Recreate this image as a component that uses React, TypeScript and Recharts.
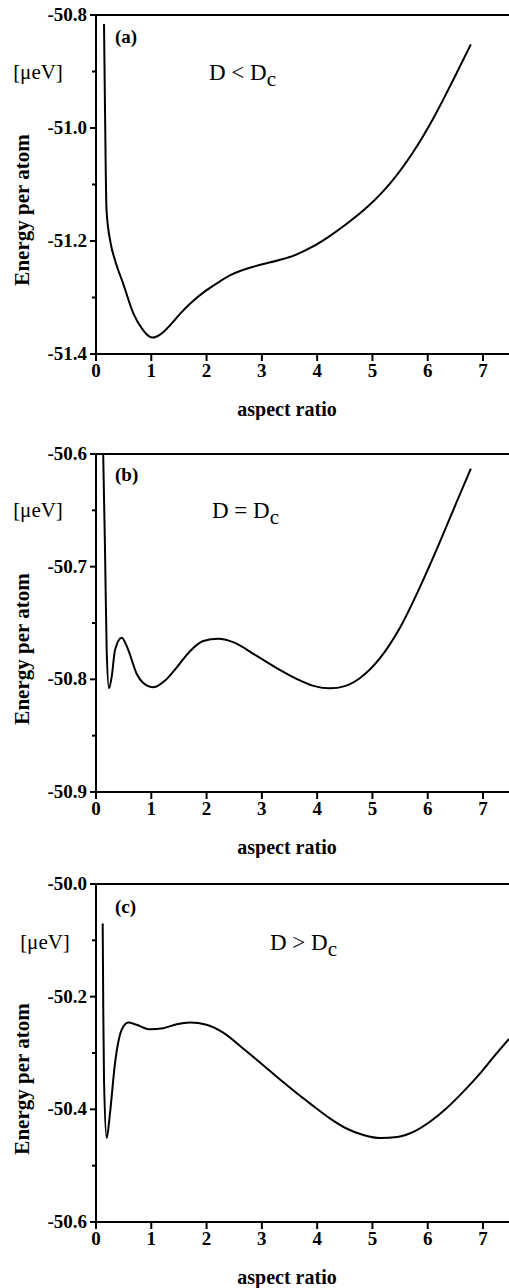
import { LineChart, Line, XAxis, YAxis, ReferenceLine } from 'recharts'

const SERIF = '"Liberation Serif", "Times New Roman", serif'

const aspectTicks = [0, 1, 2, 3, 4, 5, 6, 7]

// (a) D < Dc
const aspectA = [0.145, 0.163, 0.19, 0.265, 0.344, 0.49, 0.675, 0.855, 0.95, 1.02, 1.1, 1.22, 1.35, 1.52, 1.7, 2.0, 2.2, 2.42, 2.9, 3.3, 3.6, 3.9, 4.2, 4.53, 4.95, 5.32, 5.74, 6.1, 6.46, 6.78]
const energyA = [-50.816, -50.968, -51.145, -51.204, -51.234, -51.275, -51.328, -51.358, -51.368, -51.371, -51.369, -51.361, -51.348, -51.329, -51.311, -51.287, -51.274, -51.261, -51.244, -51.234, -51.225, -51.211, -51.193, -51.17, -51.136, -51.098, -51.042, -50.983, -50.915, -50.852]
const majorA = [-51.4, -51.2, -51.0, -50.8]
const minorA = [-51.3, -51.1, -50.9]

// (b) D = Dc
const aspectB = [0.13, 0.163, 0.193, 0.235, 0.283, 0.344, 0.464, 0.584, 0.735, 0.85, 1.04, 1.25, 1.45, 1.7, 1.94, 2.21, 2.48, 2.9, 3.27, 3.69, 3.95, 4.23, 4.5, 4.77, 5.14, 5.5, 5.86, 6.22, 6.52, 6.78]
const energyB = [-50.6, -50.685, -50.774, -50.808, -50.798, -50.774, -50.763, -50.774, -50.795, -50.803, -50.807, -50.801, -50.79, -50.775, -50.766, -50.764, -50.767, -50.779, -50.79, -50.801, -50.806, -50.808, -50.806, -50.799, -50.781, -50.754, -50.718, -50.678, -50.643, -50.613]
const majorB = [-50.9, -50.8, -50.7, -50.6]
const minorB = [-50.85, -50.75, -50.65]

// (c) D > Dc
const aspectC = [0.121, 0.132, 0.145, 0.193, 0.253, 0.344, 0.464, 0.584, 0.735, 0.976, 1.217, 1.46, 1.7, 2.0, 2.3, 2.66, 3.03, 3.39, 3.69, 3.93, 4.23, 4.53, 4.85, 5.14, 5.45, 5.74, 6.04, 6.34, 6.64, 6.94, 7.2, 7.47]
const energyC = [-50.07, -50.23, -50.348, -50.451, -50.407, -50.318, -50.259, -50.246, -50.25, -50.258, -50.256, -50.249, -50.246, -50.25, -50.264, -50.292, -50.322, -50.352, -50.376, -50.394, -50.416, -50.434, -50.446, -50.451, -50.449, -50.44, -50.422, -50.398, -50.369, -50.337, -50.306, -50.275]
const majorC = [-50.6, -50.4, -50.2, -50.0]
const minorC = [-50.5, -50.3, -50.1]

const zip = (xs: number[], ys: number[]) => xs.map((x, i) => ({ x, e: ys[i] }))

const YTick = ({ x, y, payload, majors }: any) => {
  const major = majors.some((m: number) => Math.abs(m - payload.value) < 1e-6)
  return (
    <g>
      <line x1={x - (major ? 6 : 4)} x2={x} y1={y} y2={y} stroke="#000" strokeWidth={2} />
      {major && (
        <text x={x - 9} y={y} dy="0.32em" textAnchor="end" fill="#000"
          fontSize={19} fontWeight="bold" fontFamily={SERIF}>
          {payload.value.toFixed(1)}
        </text>
      )}
    </g>
  )
}

interface PanelProps {
  top: number
  plotHeight: number
  data: { x: number; e: number }[]
  yDomain: [number, number]
  majors: number[]
  minors: number[]
  tag: string
  tagX: number
  relation: string
  relX: number
  unitX: number
  textY: number
}

function Panel({ top, plotHeight, data, yDomain, majors, minors, tag, tagX, relation, relX, unitX, textY }: PanelProps) {
  const height = 15 + plotHeight + 66
  const plotBottom = 15 + plotHeight
  return (
    <div style={{ position: 'absolute', left: 0, top, width: 509, height }}>
      <LineChart width={509} height={height} data={data} margin={{ top: 15, right: 0, left: 0, bottom: 0 }}>
        <XAxis
          dataKey="x" type="number" domain={[0, 7.47]} ticks={aspectTicks} interval={0} allowDataOverflow
          height={66} tickSize={7} tickMargin={3} stroke="#000" strokeWidth={2}
          axisLine={{ stroke: '#000', strokeWidth: 2 }}
          tickLine={{ stroke: '#000', strokeWidth: 2 }}
          tick={{ fill: '#000', stroke: 'none', fontSize: 19, fontWeight: 'bold', fontFamily: SERIF }}
        />
        <YAxis
          type="number" domain={yDomain} ticks={[...majors, ...minors].sort((a, b) => a - b)} interval={0}
          allowDataOverflow width={96} tickSize={0} tickMargin={0} tickLine={false} stroke="#000" strokeWidth={2}
          axisLine={{ stroke: '#000', strokeWidth: 2 }}
          tick={(p: any) => <YTick {...p} majors={majors} />}
        />
        <ReferenceLine y={yDomain[1]} stroke="#000" strokeWidth={2} ifOverflow="visible" />
        <Line type="monotone" dataKey="e" stroke="#000" strokeWidth={2} dot={false} isAnimationActive={false} />
      </LineChart>
      <svg width={509} height={height} style={{ position: 'absolute', left: 0, top: 0, pointerEvents: 'none' }}
        fontFamily={SERIF} fill="#000">
        <text x={tagX} y={textY - 36} dy="0.35em" fontSize={19} fontWeight="bold">{tag}</text>
        <text x={unitX} y={textY} dy="0.35em" textAnchor="middle" fontSize={21}>[μeV]</text>
        <text x={relX} y={textY} dy="0.35em" fontSize={23}>
          {relation}<tspan dy={6} fontSize={21}>c</tspan>
        </text>
        <text x={22} y={210} dy="0.35em" textAnchor="middle" fontSize={21} fontWeight="bold"
          transform="rotate(-90, 22, 210)">Energy per atom</text>
        <text x={287} y={plotBottom + 55} dy="0.35em" textAnchor="middle" fontSize={20} fontWeight="bold">
          aspect ratio
        </text>
      </svg>
    </div>
  )
}

export default function App() {
  return (
    <div style={{ position: 'absolute', left: 0, top: 0, width: 509, height: 1288, background: '#fff' }}>
      <Panel top={0} plotHeight={339} data={zip(aspectA, energyA)} yDomain={[-51.4, -50.8]}
        majors={majorA} minors={minorA} tag="(a)" tagX={115} relation="D < D" relX={209} unitX={38} textY={72} />
      <Panel top={439} plotHeight={338} data={zip(aspectB, energyB)} yDomain={[-50.9, -50.6]}
        majors={majorB} minors={minorB} tag="(b)" tagX={115} relation="D = D" relX={212} unitX={38} textY={71} />
      <Panel top={869} plotHeight={338} data={zip(aspectC, energyC)} yDomain={[-50.6, -50.0]}
        majors={majorC} minors={minorC} tag="(c)" tagX={115} relation="D > D" relX={270} unitX={45} textY={73} />
    </div>
  )
}
